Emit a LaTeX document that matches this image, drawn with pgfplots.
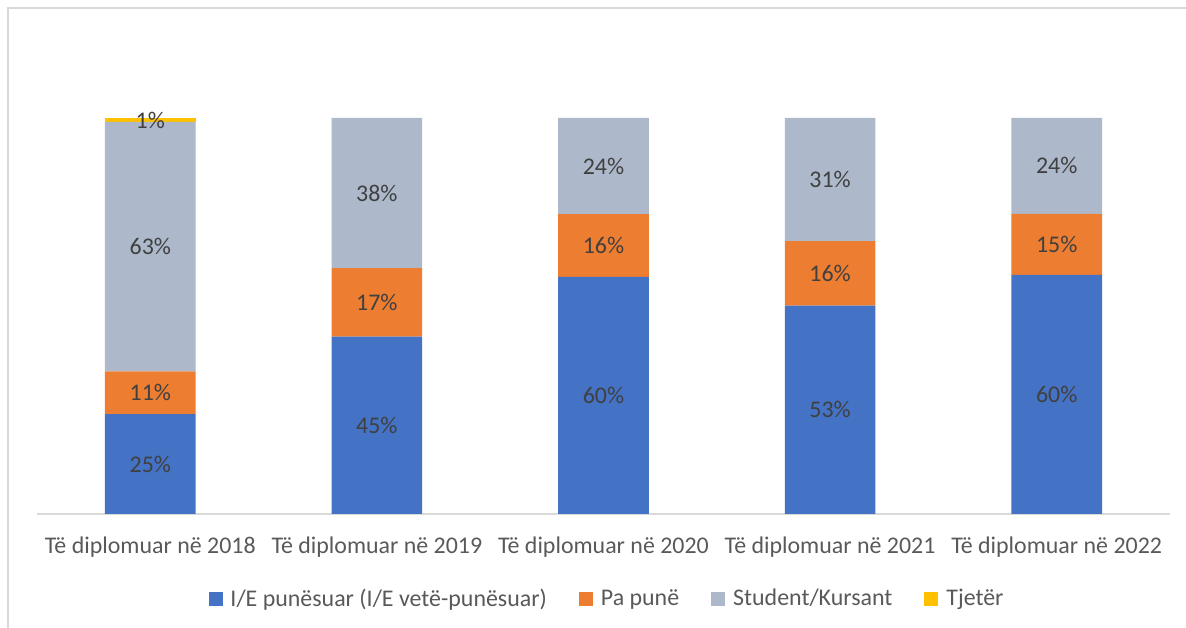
\documentclass[border=0pt]{standalone}
\usepackage{pgfplots}
\pgfplotsset{compat=1.18}
\usepackage{fontspec}
\setmainfont{Carlito}

\definecolor{cBlue}{HTML}{4472C4}
\definecolor{cOrange}{HTML}{ED7D31}
\definecolor{cGray}{HTML}{ADB9CA}
\definecolor{cYellow}{HTML}{FFC000}
\definecolor{cText}{HTML}{595959}
\definecolor{cLabel}{HTML}{404040}
\definecolor{cLine}{HTML}{D9D9D9}

% shares in percent, per graduation year (0 = 2018 ... 4 = 2022)
\pgfplotstableread{
x employed unemployed student other
0 25.2 10.8 63.0 1.0
1 44.8 17.3 37.9 0.0
2 59.9 15.8 24.3 0.0
3 52.6 16.3 31.1 0.0
4 60.4 15.4 24.2 0.0
}\shares

\begin{document}
\begin{tikzpicture}
\path[use as bounding box] (0,0) rectangle (593bp,314bp);
\draw[cLine, line width=1bp] (4bp,0) -- (4bp,310bp) -- (593bp,310bp);
\begin{axis}[
  at={(18.5bp,57bp)}, anchor=south west,
  scale only axis,
  width=566.5bp, height=198bp,
  ybar stacked,
  bar width=0.4,
  xmin=-0.5, xmax=4.5,
  ymin=0, ymax=100,
  axis y line=none,
  axis x line*=bottom,
  x axis line style={cLine, line width=1bp, -},
  xtick=data,
  xticklabels={Të diplomuar në 2018, Të diplomuar në 2019, Të diplomuar në 2020, Të diplomuar në 2021, Të diplomuar në 2022},
  xtick style={draw=none},
  xticklabel style={font=\fontsize{12}{14}\selectfont, text=cText, yshift=-8bp},
  /pgf/number format/assume math mode=true,
  point meta=rawy,
  nodes near coords={\pgfmathprintnumber[fixed,precision=0]{\pgfplotspointmeta}\%},
  nodes near coords style={font=\fontsize{12}{14}\selectfont, text=cLabel, anchor=center},
  legend columns=4,
  legend style={
    at={(0.504,-0.215)}, anchor=center, draw=none,
    font=\fontsize{12}{14}\selectfont, text=cText,
    /tikz/every even column/.append style={column sep=14bp},
  },
  legend image code/.code={\fill[#1] (0bp,-3.5bp) rectangle (7bp,3.5bp); \path (9bp,0bp);},
]
\addplot[fill=cBlue, draw=none] table[x=x, y=employed] {\shares};
\addlegendentry{I/E punësuar (I/E vetë-punësuar)}
\addplot[fill=cOrange, draw=none] table[x=x, y=unemployed] {\shares};
\addlegendentry{Pa punë}
\addplot[fill=cGray, draw=none] table[x=x, y=student] {\shares};
\addlegendentry{Student/Kursant}
\addplot[fill=cYellow, draw=none, nodes near coords={\pgfmathfloatifflags{\pgfplotspointmeta}{0}{}{\pgfmathprintnumber[fixed,precision=0]{\pgfplotspointmeta}\%}}] table[x=x, y=other] {\shares};
\addlegendentry{Tjetër}
\end{axis}
\end{tikzpicture}
\end{document}
